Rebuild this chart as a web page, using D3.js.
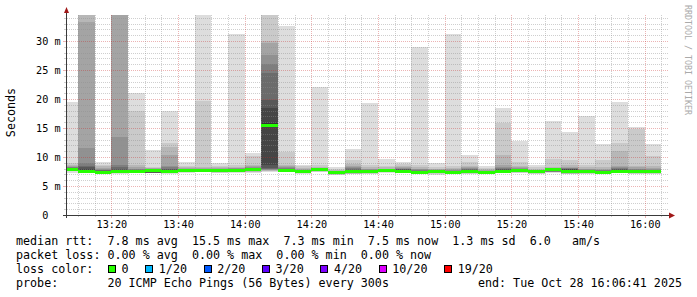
<!DOCTYPE html>
<html>
<head>
<meta charset="utf-8">
<script src="https://cdn.jsdelivr.net/npm/d3@7"></script>
<style>
  body { margin: 0; background: #fff; }
  svg text { font-family: "DejaVu Sans Mono", monospace; white-space: pre; }
</style>
</head>
<body>
<svg id="chart" width="697" height="297"></svg>
<script>
// end time of each 5 minute step
const stepEnds = ["13:10","13:15","13:20","13:25","13:30","13:35","13:40","13:45","13:50","13:55",
  "14:00","14:05","14:10","14:15","14:20","14:25","14:30","14:35","14:40","14:45",
  "14:50","14:55","15:00","15:05","15:10","15:15","15:20","15:25","15:30","15:35",
  "15:40","15:45","15:50","15:55","16:00","16:05"];

// 20 sorted pings per step, ms (36 = off the top of the graph)
const pings = [
  [7.3,7.6,7.75,7.8,7.85,7.9,7.92,7.95,7.97,8.0, 8.0,8.05,8.1,8.15,8.2,8.3,8.45,8.6,8.9,19.4],
  [7.2,7.25,7.3,7.32,7.34,7.36,7.38,7.4,7.42,7.45, 7.65,7.9,8.2,8.5,8.9,11.6,33.2,36,36,36],
  [7.0,7.2,7.22,7.24,7.26,7.28,7.3,7.32,7.34,7.36, 7.45,7.5,7.6,7.7,7.8,7.9,8.1,8.4,8.7,9.2],
  [7.1,7.2,7.25,7.3,7.32,7.34,7.36,7.38,7.4,7.45, 7.65,7.8,8.0,8.3,8.6,13.5,36,36,36,36],
  [7.2,7.3,7.35,7.4,7.42,7.44,7.46,7.48,7.5,7.55, 7.65,7.7,7.75,7.8,7.9,8.0,8.3,8.6,18.0,21.1],
  [7.18,7.2,7.21,7.22,7.23,7.25,7.27,7.3,7.4,7.7, 7.85,7.88,7.9,7.93,7.95,8.0,8.05,8.15,8.35,11.2],
  [7.0,7.2,7.22,7.24,7.26,7.28,7.3,7.35,7.4,7.5, 7.7,7.8,7.9,8.0,8.3,8.5,10.4,11.8,12.4,18.0],
  [7.3,7.35,7.4,7.42,7.45,7.48,7.5,7.52,7.55,7.65, 7.75,7.8,7.85,7.9,7.95,8.0,8.1,8.3,8.5,9.2],
  [7.4,7.45,7.5,7.52,7.55,7.58,7.6,7.62,7.65,7.7, 7.75,7.8,7.85,7.9,7.95,8.0,8.1,8.3,19.6,36],
  [7.2,7.3,7.34,7.36,7.38,7.4,7.42,7.45,7.5,7.78, 7.82,7.85,7.88,7.9,7.95,8.0,8.05,8.2,8.4,9.0],
  [7.3,7.4,7.45,7.5,7.55,7.58,7.6,7.65,7.7,7.75, 7.8,7.85,7.9,7.95,8.0,8.05,8.15,8.3,8.6,31.2],
  [7.3,7.4,7.45,7.5,7.52,7.54,7.56,7.58,7.6,7.82, 7.88,7.9,7.95,8.0,8.1,8.3,8.4,8.7,10.1,10.7],
  [7.4,7.5,7.6,7.7,7.8,7.9,8.0,8.1,8.6,15.2, 15.8,18.4,19.8,24.4,26.1,27.6,29.6,30.0,36,36],
  [7.4,7.45,7.5,7.52,7.55,7.58,7.6,7.62,7.65,7.7, 7.75,7.8,7.85,7.95,8.05,8.2,8.4,8.7,10.9,32.6],
  [7.1,7.2,7.25,7.3,7.35,7.38,7.4,7.42,7.45,7.52, 7.58,7.6,7.65,7.68,7.7,7.8,7.9,8.1,8.4,8.7],
  [7.4,7.45,7.5,7.52,7.54,7.56,7.58,7.6,7.62,7.82, 7.88,7.9,7.92,7.95,8.0,8.05,8.1,8.3,8.6,22.0],
  [6.9,6.95,7.0,7.02,7.05,7.08,7.1,7.15,7.2,7.38, 7.42,7.44,7.46,7.48,7.5,7.55,7.6,7.7,7.9,8.3],
  [7.0,7.1,7.15,7.2,7.25,7.3,7.35,7.38,7.42,7.5, 7.58,7.65,7.75,7.9,8.1,8.3,8.5,8.8,9.5,11.4],
  [7.1,7.15,7.2,7.25,7.3,7.32,7.35,7.38,7.42,7.48, 7.55,7.6,7.65,7.7,7.75,7.85,8.0,8.2,8.6,19.3],
  [7.3,7.35,7.4,7.45,7.5,7.52,7.54,7.56,7.6,7.68, 7.72,7.75,7.78,7.8,7.85,7.9,8.0,8.2,8.5,9.6],
  [7.2,7.25,7.3,7.32,7.35,7.38,7.4,7.42,7.45,7.5, 7.7,7.8,7.9,7.95,8.0,8.1,8.2,8.5,8.8,9.2],
  [7.1,7.15,7.2,7.22,7.25,7.28,7.3,7.32,7.35,7.42, 7.5,7.55,7.6,7.65,7.75,7.85,8.0,8.3,8.6,29.0],
  [6.95,7.1,7.2,7.25,7.3,7.32,7.35,7.38,7.4,7.5, 7.58,7.6,7.62,7.65,7.7,7.75,7.85,8.0,8.3,8.9],
  [7.0,7.1,7.15,7.18,7.2,7.22,7.25,7.28,7.3,7.42, 7.5,7.52,7.55,7.6,7.65,7.75,7.9,8.1,8.5,31.2],
  [7.1,7.15,7.2,7.25,7.28,7.3,7.32,7.35,7.4,7.45, 7.6,7.7,7.8,7.9,8.0,8.1,8.2,8.5,9.2,10.4],
  [7.0,7.1,7.15,7.2,7.25,7.28,7.3,7.32,7.35,7.42, 7.48,7.5,7.52,7.55,7.6,7.65,7.75,7.9,8.1,8.4],
  [7.2,7.25,7.3,7.35,7.38,7.4,7.42,7.45,7.5,7.55, 7.65,7.75,7.85,7.95,8.1,8.3,8.6,10.4,15.8,18.5],
  [7.2,7.3,7.35,7.4,7.45,7.5,7.52,7.55,7.6,7.68, 7.74,7.78,7.82,7.88,7.95,8.05,8.2,8.5,9.2,12.8],
  [7.1,7.15,7.2,7.25,7.28,7.3,7.32,7.35,7.4,7.48, 7.52,7.54,7.57,7.6,7.65,7.7,7.8,7.95,8.2,8.7],
  [7.3,7.35,7.38,7.4,7.42,7.45,7.5,7.55,7.6,7.88, 7.94,7.96,7.98,8.0,8.04,8.08,8.15,8.3,9.6,16.2],
  [7.0,7.1,7.15,7.2,7.25,7.28,7.3,7.32,7.38,7.45, 7.6,7.85,7.92,7.98,8.05,8.15,8.3,8.6,9.5,14.3],
  [7.1,7.15,7.2,7.25,7.28,7.3,7.32,7.35,7.4,7.48, 7.55,7.6,7.65,7.7,7.75,7.85,8.0,8.2,8.6,17.1],
  [7.0,7.1,7.15,7.2,7.22,7.25,7.28,7.3,7.35,7.42, 7.47,7.5,7.55,7.62,7.7,7.8,7.95,8.2,9.4,12.2],
  [7.2,7.25,7.3,7.35,7.38,7.4,7.42,7.45,7.5,7.6, 7.68,7.75,7.85,7.95,8.05,8.2,8.5,11.1,12.4,19.4],
  [7.1,7.15,7.18,7.2,7.22,7.25,7.28,7.3,7.35,7.6, 7.65,7.7,7.75,7.8,7.9,8.0,8.2,8.5,14.9,15.2],
  [7.1,7.15,7.2,7.25,7.28,7.3,7.32,7.35,7.4,7.48, 7.52,7.55,7.6,7.65,7.75,7.9,8.1,8.4,10.2,12.3]
];

const yTickValues = [0, 5, 10, 15, 20, 25, 30];
const xTickLabels = ["13:20","13:40","14:00","14:20","14:40","15:00","15:20","15:40","16:00"];

const lossLabels = ["0", "1/20", "2/20", "3/20", "4/20", "10/20", "19/20"];
const lossColors = ["#26ff00", "#00b8ff", "#0059ff", "#5e00ff", "#7e00ff", "#dd00ff", "#ff0000"];

const rttText = "median rtt:  7.8 ms avg  15.5 ms max  7.3 ms min  7.5 ms now  1.3 ms sd  6.0   am/s";
const lossText = "packet loss: 0.00 % avg  0.00 % max  0.00 % min  0.00 % now";
const probeText = "probe:       20 ICMP Echo Pings (56 Bytes) every 300s";
const endText = "end: Tue Oct 28 16:06:41 2025";

const svg = d3.select('#chart');
const parse = d3.timeParse('%Y-%m-%d %H:%M:%S');
const atTime = hm => parse('2025-10-28 ' + hm + ':00');
const start = parse('2025-10-28 13:06:41');
const end = parse('2025-10-28 16:06:41');

const plotLeft = 67, plotRight = 667, plotTop = 15, plotBottom = 215;
const yMax = 34.48;

const x = d3.scaleTime().domain([start, end]).range([plotLeft, plotRight]);
const y = d3.scaleLinear().domain([0, yMax]).range([plotBottom, plotTop]);

// smoke
const smoke = svg.append('g').attr('shape-rendering', 'crispEdges');
pings.forEach((p, i) => {
    const t1 = atTime(stepEnds[i]);
    const t0 = d3.timeMinute.offset(t1, -5);
    const x0 = Math.max(x(t0), plotLeft), x1 = x(t1);
    for (let k = 0; k < 10; k++) {
        const lo = p[k], hi = Math.min(p[19 - k], yMax);
        const g = 221 - 19 * k;
        smoke.append('rect')
            .attr('x', x0)
            .attr('width', x1 - x0)
            .attr('y', y(hi))
            .attr('height', y(lo) - y(hi))
            .attr('fill', d3.rgb(g, g, g));
    }
});

// grid
const grid = svg.append('g').attr('shape-rendering', 'crispEdges');
const minorCol = 'rgba(140,140,140,0.42)';
const majorCol = 'rgba(200,40,40,0.35)';
d3.range(1, 35).forEach(v => {
    const yy = Math.round(y(v)) + 0.5;
    const major = v % 5 === 0;
    grid.append('line')
        .attr('x1', plotLeft).attr('x2', plotRight + 1)
        .attr('y1', yy).attr('y2', yy)
        .attr('stroke', major ? majorCol : minorCol)
        .attr('stroke-dasharray', '1,1');
    grid.append('line')
        .attr('x1', major ? 63 : 64).attr('x2', plotLeft)
        .attr('y1', yy).attr('y2', yy)
        .attr('stroke', major ? majorCol : minorCol);
});
const gridTimes = d3.timeMinute.every(5).range(atTime('13:10'), end);
gridTimes.forEach(t => {
    const xx = Math.round(x(t)) + 0.5;
    const major = t.getMinutes() % 20 === 0;
    grid.append('line')
        .attr('x1', xx).attr('x2', xx)
        .attr('y1', plotTop).attr('y2', plotBottom)
        .attr('stroke', major ? majorCol : minorCol)
        .attr('stroke-dasharray', '1,1');
    grid.append('line')
        .attr('x1', xx).attr('x2', xx)
        .attr('y1', plotBottom).attr('y2', plotBottom + (major ? 3 : 2))
        .attr('stroke', major ? majorCol : minorCol);
});

// median line, coloured by loss
const med = svg.append('g').attr('shape-rendering', 'crispEdges');
pings.forEach((p, i) => {
    const t1 = atTime(stepEnds[i]);
    const t0 = d3.timeMinute.offset(t1, -5);
    const m = d3.median(p);
    const yy = Math.round(y(m)) + 0.5;
    med.append('line')
        .attr('x1', Math.max(x(t0), plotLeft)).attr('x2', x(t1))
        .attr('y1', yy).attr('y2', yy)
        .attr('stroke', lossColors[0])
        .attr('stroke-width', 3);
});

// axes
const axisCol = '#3a3a3a';
const arrowCol = '#a01818';
svg.append('line')
    .attr('x1', 63).attr('x2', plotRight + 3)
    .attr('y1', plotBottom + 0.5).attr('y2', plotBottom + 0.5)
    .attr('stroke', axisCol).attr('shape-rendering', 'crispEdges');
svg.append('line')
    .attr('x1', plotLeft - 0.5).attr('x2', plotLeft - 0.5)
    .attr('y1', plotBottom + 3).attr('y2', 10)
    .attr('stroke', axisCol).attr('shape-rendering', 'crispEdges');
svg.append('path')
    .attr('d', `M${plotLeft - 3},13 L${plotLeft + 2},13 L${plotLeft - 0.5},7 Z`)
    .attr('fill', arrowCol);
svg.append('path')
    .attr('d', `M${plotRight + 2},${plotBottom - 2.5} L${plotRight + 2},${plotBottom + 3.5} L${plotRight + 8},${plotBottom + 0.5} Z`)
    .attr('fill', arrowCol);

// tick labels
const axisFont = '10.2px';
yTickValues.forEach(v => {
    const yy = Math.round(y(v)) + 4;
    svg.append('text')
        .attr('x', 48.3).attr('y', yy)
        .attr('text-anchor', 'end')
        .attr('font-size', axisFont)
        .text(v);
    if (v !== 0) {
        svg.append('text')
            .attr('x', 54.4).attr('y', yy)
            .attr('font-size', axisFont)
            .text('m');
    }
});
xTickLabels.forEach(lbl => {
    svg.append('text')
        .attr('x', x(atTime(lbl)) + 0.5)
        .attr('y', 227.5)
        .attr('text-anchor', 'middle')
        .attr('font-size', axisFont)
        .text(lbl);
});

// unit label
svg.append('text')
    .attr('transform', 'translate(15,112.5) rotate(-90)')
    .attr('text-anchor', 'middle')
    .attr('font-size', '11.7px')
    .text('Seconds');

// watermark
svg.append('text')
    .attr('transform', 'translate(685,5) rotate(90)')
    .attr('font-size', '8.3px')
    .attr('fill', '#aaaaaa')
    .text('RRDTOOL / TOBI OETIKER');

// legend
const legFont = '11.7px';
const charW = 7.04;
const base0 = 244.5, rowH = 14;
svg.append('text').attr('x', 16).attr('y', base0).attr('font-size', legFont).text(rttText);
svg.append('text').attr('x', 16).attr('y', base0 + rowH).attr('font-size', legFont).text(lossText);
svg.append('text').attr('x', 16).attr('y', base0 + 2 * rowH).attr('font-size', legFont).text('loss color:');
svg.append('text').attr('x', 16).attr('y', base0 + 3 * rowH).attr('font-size', legFont).text(probeText);
svg.append('text').attr('x', 682).attr('y', base0 + 3 * rowH)
    .attr('text-anchor', 'end').attr('font-size', legFont).text(endText);

let lx = 108;
lossLabels.forEach((lbl, i) => {
    const by = base0 + 2 * rowH;
    svg.append('rect')
        .attr('x', lx + 0.5).attr('y', by - 7.5)
        .attr('width', 7).attr('height', 7)
        .attr('fill', lossColors[i])
        .attr('stroke', '#000')
        .attr('shape-rendering', 'crispEdges');
    svg.append('text')
        .attr('x', lx + 13.6).attr('y', by)
        .attr('font-size', legFont)
        .text(lbl);
    lx += 13.6 + lbl.length * charW + 16.6;
});
</script>
</body>
</html>
